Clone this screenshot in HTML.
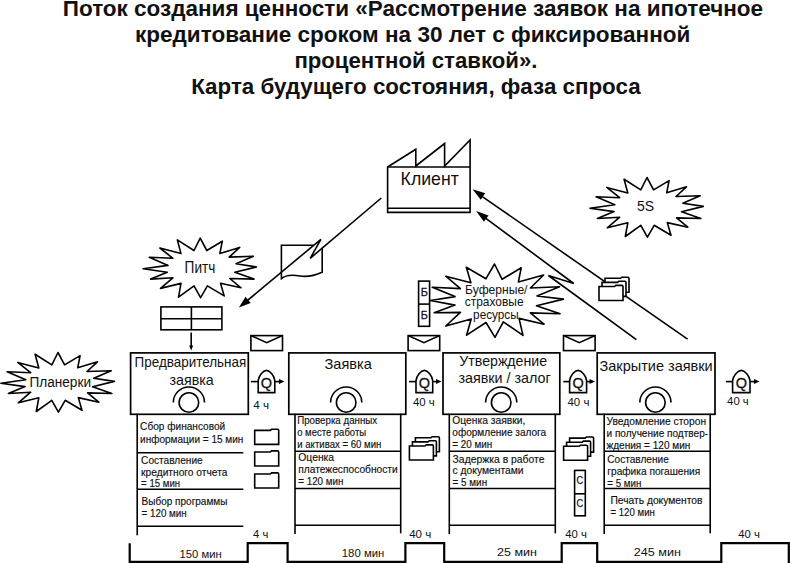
<!DOCTYPE html>
<html><head><meta charset="utf-8"><style>
html,body{margin:0;padding:0;background:#fff;overflow:hidden;}
svg{display:block;}
</style></head><body>
<svg width="790" height="563" viewBox="0 0 790 563" font-family="'Liberation Sans', sans-serif" fill="none" stroke="#000">
<rect x="0" y="0" width="790" height="563" fill="#fff" stroke="none"/>
<g fill="none" stroke="#111" stroke-linecap="butt">
</g>
<g>
<text x="62.8" y="16.2" font-size="22.5" font-weight="bold" textLength="700.3" lengthAdjust="spacingAndGlyphs" fill="#111" stroke="none">Поток создания ценности «Рассмотрение заявок на ипотечное</text>
<text x="135.0" y="42.2" font-size="22.5" font-weight="bold" textLength="555.4" lengthAdjust="spacingAndGlyphs" fill="#111" stroke="none">кредитование сроком на 30 лет с фиксированной</text>
<text x="294.4" y="67.8" font-size="22.5" font-weight="bold" textLength="243.0" lengthAdjust="spacingAndGlyphs" fill="#111" stroke="none">процентной ставкой».</text>
<text x="191.2" y="93.5" font-size="22.5" font-weight="bold" textLength="449.4" lengthAdjust="spacingAndGlyphs" fill="#111" stroke="none">Карта будущего состояния, фаза спроса</text>
</g>
<path d="M387.6,167 L415.8,149.2 L415.8,166 L444.6,143.5 L444.6,166 L470.1,140 L470.1,212.4 L387.6,212.4 Z" stroke-width="1.6" fill="none" />
<line x1="387.6" y1="167" x2="470.1" y2="167" stroke-width="1.6"/>
<line x1="387.6" y1="208.3" x2="470.1" y2="208.3" stroke-width="1.6"/>
<text x="400.6" y="184.6" font-size="19" textLength="58.2" lengthAdjust="spacingAndGlyphs" fill="#111" stroke="none">Клиент</text>
<path d="M281.4,245.3 L322.2,245.3 L322.2,272.2 C316,275 309,277.5 300,276 C292,274.5 285,275.5 281.4,278.6 Z" stroke-width="1.6" fill="none" />
<polygon points="320.9,239.3 313.0,245.9 310.2,258.3 327,243.1" fill="#fff" stroke="none"/>
<path d="M381.3,198 L310.2,258.3 L320.9,239.3 L243,304.2" stroke-width="1.6" fill="none" stroke-linejoin="miter"/>
<polygon points="238.90,307.60 245.56,296.85 250.68,302.99" fill="#000" stroke="none"/>
<line x1="687.6" y1="339.1" x2="480.5" y2="195.3" stroke-width="1.6"/>
<polygon points="472.60,189.30 485.17,193.30 480.71,199.70" fill="#000" stroke="none"/>
<path d="M636.4,339.6 L548.4,275.5 L573.7,283.5 L484.5,217.3" stroke-width="1.6" fill="none" stroke-linejoin="miter"/>
<polygon points="476.10,211.10 488.54,215.47 483.90,221.74" fill="#000" stroke="none"/>
<polygon points="200.2,238.1 206.8,250.5 222.3,241.2 219.9,253.4 239.7,247.4 229.2,257.1 253.4,256.3 236,263.8 256.5,267 234.8,272.3 254,279.1 229.8,278.5 241,287.8 220.5,283.2 224.2,295.9 207.4,285.9 200.6,297.7 194,285.9 178.5,297.1 181,283.4 160.5,288.4 172.9,277.8 150.6,279.1 167.3,272.2 143.1,268.8 168,265.4 149.3,257.3 172.9,258.3 159.9,248 181,253.6 177.3,239.9 194,250.5" stroke-width="1.6" fill="#fff" stroke-linejoin="round"/>
<text x="184.6" y="272.5" font-size="16" textLength="30.8" lengthAdjust="spacingAndGlyphs" fill="#111" stroke="none">Питч</text>
<polygon points="647.0,177.5 653.6,189.9 669.1,180.6 666.7,192.8 686.5,186.8 676.0,196.50000000000003 700.2,195.70000000000002 682.8,203.20000000000002 703.3,206.4 681.6,211.70000000000002 700.8,218.50000000000003 676.6,217.9 687.8,227.20000000000002 667.3,222.6 671.0,235.29999999999998 654.2,225.29999999999998 647.4,237.1 640.8,225.29999999999998 625.3,236.50000000000003 627.8,222.79999999999998 607.3,227.79999999999998 619.7,217.20000000000002 597.4,218.50000000000003 614.1,211.6 589.9,208.20000000000002 614.8,204.79999999999998 596.1,196.70000000000002 619.7,197.70000000000002 606.7,187.4 627.8,193.0 624.1,179.3 640.8,189.9" stroke-width="1.6" fill="#fff" stroke-linejoin="round"/>
<text x="636.9" y="211.4" font-size="15.5" textLength="17.2" lengthAdjust="spacingAndGlyphs" fill="#111" stroke="none">5S</text>
<polygon points="58.0,352.5 64.60000000000002,364.9 80.10000000000002,355.6 77.70000000000002,367.8 97.5,361.8 87.0,371.5 111.20000000000002,370.70000000000005 93.80000000000001,378.20000000000005 114.30000000000001,381.4 92.60000000000002,386.70000000000005 111.80000000000001,393.5 87.60000000000002,392.9 98.80000000000001,402.20000000000005 78.30000000000001,397.6 82.0,410.29999999999995 65.20000000000002,400.29999999999995 58.400000000000006,412.1 51.80000000000001,400.29999999999995 36.30000000000001,411.5 38.80000000000001,397.79999999999995 18.30000000000001,402.79999999999995 30.700000000000017,392.20000000000005 8.400000000000006,393.5 25.100000000000023,386.6 0.9000000000000057,383.20000000000005 25.80000000000001,379.79999999999995 7.100000000000023,371.70000000000005 30.700000000000017,372.70000000000005 17.700000000000017,362.4 38.80000000000001,368.0 35.10000000000002,354.3 51.80000000000001,364.9" stroke-width="1.6" fill="#fff" stroke-linejoin="round"/>
<text x="29.4" y="387.4" font-size="15.5" textLength="61.6" lengthAdjust="spacingAndGlyphs" fill="#111" stroke="none">Планерки</text>
<polygon points="494.5,264 502.1,279.3 521.2,267.8 518.4,281.9 543.6,275 530.4,288 559.5,286.7 537,296 563.5,299.1 536.5,305.8 560,313.8 530.3,312.9 544,324.2 519,318.4 523,335.4 503.3,321.8 495,337.3 486,322.5 466.6,335.2 471.2,319 445.8,326 460.4,312.4 434.2,312.8 455,305.1 430.3,300.5 455,296.6 432.3,287.3 460.4,288.6 445.8,276.2 470.9,282.7 466.3,267.3 485.9,278.8" stroke-width="1.6" fill="#fff" stroke-linejoin="round"/>
<text x="465.1" y="294.2" font-size="12.2" textLength="62.4" lengthAdjust="spacingAndGlyphs" fill="#111" stroke="none">Буферные/</text>
<text x="464.7" y="306.2" font-size="12.2" textLength="58.9" lengthAdjust="spacingAndGlyphs" fill="#111" stroke="none">страховые</text>
<text x="473.1" y="318.6" font-size="12.2" textLength="45.6" lengthAdjust="spacingAndGlyphs" fill="#111" stroke="none">ресурсы</text>
<rect x="418.6" y="281.1" width="11" height="45.2" fill="#fff" stroke-width="1.6"/>
<line x1="418.6" y1="304.1" x2="429.6" y2="304.1" stroke-width="1.6"/>
<text x="420.8" y="295.8" font-size="10.8" textLength="7.1" lengthAdjust="spacingAndGlyphs" fill="#111" stroke="#111" stroke-width="0.3">Б</text>
<text x="420.8" y="318.6" font-size="10.8" textLength="7.1" lengthAdjust="spacingAndGlyphs" fill="#111" stroke="#111" stroke-width="0.3">Б</text>
<rect x="160.9" y="306.9" width="61" height="22.9" fill="none" stroke-width="1.6"/>
<line x1="160.9" y1="318.7" x2="221.9" y2="318.7" stroke-width="1.6"/>
<line x1="191.4" y1="306.9" x2="191.4" y2="329.8" stroke-width="1.6"/>
<line x1="191.2" y1="332.5" x2="191.2" y2="347" stroke-width="1.6"/>
<polygon points="191.20,350.50 189.20,345.50 193.20,345.50" fill="#000" stroke="none"/>
<rect x="250.9" y="335.6" width="31.6" height="15" fill="none" stroke-width="1.6"/>
<path d="M250.9,335.6 L266.7,342.7 L282.5,335.6" stroke-width="1.6" fill="none" />
<rect x="408.1" y="335.6" width="31.6" height="15" fill="none" stroke-width="1.6"/>
<path d="M408.1,335.6 L423.90000000000003,342.7 L439.70000000000005,335.6" stroke-width="1.6" fill="none" />
<rect x="563.5" y="335.6" width="31.6" height="15" fill="none" stroke-width="1.6"/>
<path d="M563.5,335.6 L579.3,342.7 L595.1,335.6" stroke-width="1.6" fill="none" />
<rect x="130.6" y="352.9" width="117.7" height="61.4" fill="none" stroke-width="1.7"/>
<rect x="288.8" y="352.9" width="117.0" height="61.4" fill="none" stroke-width="1.7"/>
<rect x="443" y="352.9" width="116.8" height="61.4" fill="none" stroke-width="1.7"/>
<rect x="597.2" y="352.9" width="117.8" height="61.4" fill="none" stroke-width="1.7"/>
<text x="134.6" y="366.8" font-size="15" textLength="111.6" lengthAdjust="spacingAndGlyphs" fill="#111" stroke="none">Предварительная</text>
<text x="169.6" y="384.6" font-size="14.5" textLength="44.2" lengthAdjust="spacingAndGlyphs" fill="#111" stroke="none">заявка</text>
<text x="324.6" y="369.3" font-size="14.5" textLength="47.2" lengthAdjust="spacingAndGlyphs" fill="#111" stroke="none">Заявка</text>
<text x="459.3" y="365.5" font-size="14.5" textLength="87.8" lengthAdjust="spacingAndGlyphs" fill="#111" stroke="none">Утверждение</text>
<text x="458.4" y="383.1" font-size="14.5" textLength="92.4" lengthAdjust="spacingAndGlyphs" fill="#111" stroke="none">заявки / залог</text>
<text x="599.5" y="371.4" font-size="14.5" textLength="113.2" lengthAdjust="spacingAndGlyphs" fill="#111" stroke="none">Закрытие заявки</text>
<circle cx="188.9" cy="402.5" r="9.8" fill="none" stroke-width="1.6"/>
<path d="M173.3,402.4 A15.6,15.4 0 0 1 204.5,402.4" stroke-width="1.6" fill="none" />
<circle cx="346.2" cy="402.5" r="9.8" fill="none" stroke-width="1.6"/>
<path d="M330.59999999999997,402.4 A15.6,15.4 0 0 1 361.8,402.4" stroke-width="1.6" fill="none" />
<circle cx="501.2" cy="402.5" r="9.8" fill="none" stroke-width="1.6"/>
<path d="M485.59999999999997,402.4 A15.6,15.4 0 0 1 516.8,402.4" stroke-width="1.6" fill="none" />
<circle cx="655.4" cy="402.5" r="9.8" fill="none" stroke-width="1.6"/>
<path d="M639.8,402.4 A15.6,15.4 0 0 1 671.0,402.4" stroke-width="1.6" fill="none" />
<path d="M258.2,392.6 L258.2,380.6 C258.7,376 263.0,370.4 266.5,370.4 C270.0,370.4 274.3,376 274.8,380.6 L274.8,392.6 Z" stroke-width="1.6" fill="none" />
<line x1="250.9" y1="381.6" x2="258.2" y2="381.6" stroke-width="1.6"/>
<line x1="274.8" y1="381.6" x2="280.5" y2="381.6" stroke-width="1.6"/>
<polygon points="284.50,381.60 279.00,384.10 279.00,379.10" fill="#000" stroke="none"/>
<text x="266.5" y="388.3" font-size="14.5" text-anchor="middle" fill="#111" stroke="#111" stroke-width="0.3">Q</text>
<path d="M416,392.6 L416,380.6 C416.5,376 420.85,370.4 424.35,370.4 C427.85,370.4 432.2,376 432.7,380.6 L432.7,392.6 Z" stroke-width="1.6" fill="none" />
<line x1="409" y1="381.6" x2="416" y2="381.6" stroke-width="1.6"/>
<line x1="432.7" y1="381.6" x2="437.5" y2="381.6" stroke-width="1.6"/>
<polygon points="441.50,381.60 436.00,384.10 436.00,379.10" fill="#000" stroke="none"/>
<text x="424.35" y="388.3" font-size="14.5" text-anchor="middle" fill="#111" stroke="#111" stroke-width="0.3">Q</text>
<path d="M569.6,392.6 L569.6,380.6 C570.1,376 574.6,370.4 578.1,370.4 C581.6,370.4 586.1,376 586.6,380.6 L586.6,392.6 Z" stroke-width="1.6" fill="none" />
<line x1="563.3" y1="381.6" x2="569.6" y2="381.6" stroke-width="1.6"/>
<line x1="586.6" y1="381.6" x2="591" y2="381.6" stroke-width="1.6"/>
<polygon points="595.00,381.60 589.50,384.10 589.50,379.10" fill="#000" stroke="none"/>
<text x="578.1" y="388.3" font-size="14.5" text-anchor="middle" fill="#111" stroke="#111" stroke-width="0.3">Q</text>
<path d="M732.6,392.6 L732.6,380.6 C733.1,376 737.8,370.4 741.3,370.4 C744.8,370.4 749.5,376 750,380.6 L750,392.6 Z" stroke-width="1.6" fill="none" />
<line x1="725.9" y1="381.6" x2="732.6" y2="381.6" stroke-width="1.6"/>
<line x1="750" y1="381.6" x2="755.5" y2="381.6" stroke-width="1.6"/>
<polygon points="759.50,381.60 754.00,384.10 754.00,379.10" fill="#000" stroke="none"/>
<text x="741.3" y="388.3" font-size="14.5" text-anchor="middle" fill="#111" stroke="#111" stroke-width="0.3">Q</text>
<text x="253.2" y="408.7" font-size="11.5" textLength="15.8" lengthAdjust="spacingAndGlyphs" fill="#111" stroke="none">4 ч</text>
<text x="413" y="405.6" font-size="11.5" textLength="21.8" lengthAdjust="spacingAndGlyphs" fill="#111" stroke="none">40 ч</text>
<text x="567.5" y="405.8" font-size="11.5" textLength="21.9" lengthAdjust="spacingAndGlyphs" fill="#111" stroke="none">40 ч</text>
<text x="727.1" y="404.5" font-size="11.5" textLength="21.7" lengthAdjust="spacingAndGlyphs" fill="#111" stroke="none">40 ч</text>
<line x1="137.2" y1="413.8" x2="137.2" y2="535.3" stroke-width="1.6"/>
<line x1="137.2" y1="452.8" x2="243.3" y2="452.8" stroke-width="1.6"/>
<line x1="137.2" y1="489.3" x2="243.3" y2="489.3" stroke-width="1.6"/>
<line x1="137.2" y1="526.2" x2="243.3" y2="526.2" stroke-width="1.6"/>
<line x1="295" y1="413.8" x2="295" y2="534" stroke-width="1.6"/>
<line x1="400.7" y1="413.8" x2="400.7" y2="533.3" stroke-width="1.6"/>
<line x1="295" y1="451.2" x2="400.7" y2="451.2" stroke-width="1.6"/>
<line x1="295" y1="488.5" x2="400.7" y2="488.5" stroke-width="1.6"/>
<line x1="295" y1="525.2" x2="400.7" y2="525.2" stroke-width="1.6"/>
<line x1="449.3" y1="413.8" x2="449.3" y2="534" stroke-width="1.6"/>
<line x1="555.3" y1="413.8" x2="555.3" y2="533.3" stroke-width="1.6"/>
<line x1="449.3" y1="451.2" x2="555.3" y2="451.2" stroke-width="1.6"/>
<line x1="449.3" y1="488.5" x2="555.3" y2="488.5" stroke-width="1.6"/>
<line x1="449.3" y1="525.2" x2="555.3" y2="525.2" stroke-width="1.6"/>
<line x1="604.2" y1="413.8" x2="604.2" y2="534" stroke-width="1.6"/>
<line x1="710.2" y1="413.8" x2="710.2" y2="533.3" stroke-width="1.6"/>
<line x1="604.2" y1="451.2" x2="710.2" y2="451.2" stroke-width="1.6"/>
<line x1="604.2" y1="488.5" x2="710.2" y2="488.5" stroke-width="1.6"/>
<line x1="604.2" y1="525.2" x2="710.2" y2="525.2" stroke-width="1.6"/>
<g font-size="10">
<text x="140.1" y="430.3" font-size="10.3" textLength="85.1" lengthAdjust="spacingAndGlyphs" fill="#111" stroke="#111" stroke-width="0.15">Сбор финансовой</text>
<text x="140.1" y="443" font-size="10.3" textLength="103.3" lengthAdjust="spacingAndGlyphs" fill="#111" stroke="#111" stroke-width="0.15">информации = 15 мин</text>
<text x="141.1" y="464.3" font-size="10.3" textLength="61.6" lengthAdjust="spacingAndGlyphs" fill="#111" stroke="#111" stroke-width="0.15">Составление</text>
<text x="141.1" y="475.5" font-size="10.3" textLength="86.3" lengthAdjust="spacingAndGlyphs" fill="#111" stroke="#111" stroke-width="0.15">кредитного отчета</text>
<text x="141.1" y="487.1" font-size="10.3" textLength="39" lengthAdjust="spacingAndGlyphs" fill="#111" stroke="#111" stroke-width="0.15">= 15 мин</text>
<text x="141.6" y="505.2" font-size="10.3" textLength="85.8" lengthAdjust="spacingAndGlyphs" fill="#111" stroke="#111" stroke-width="0.15">Выбор программы</text>
<text x="141.6" y="517.1" font-size="10.3" textLength="45.1" lengthAdjust="spacingAndGlyphs" fill="#111" stroke="#111" stroke-width="0.15">= 120 мин</text>
<text x="297.2" y="424.4" font-size="10.3" textLength="80" lengthAdjust="spacingAndGlyphs" fill="#111" stroke="#111" stroke-width="0.15">Проверка данных</text>
<text x="297.2" y="436" font-size="10.3" textLength="68.9" lengthAdjust="spacingAndGlyphs" fill="#111" stroke="#111" stroke-width="0.15">о месте работы</text>
<text x="297.2" y="447.5" font-size="10.3" textLength="84.2" lengthAdjust="spacingAndGlyphs" fill="#111" stroke="#111" stroke-width="0.15">и активах = 60 мин</text>
<text x="298.3" y="461.4" font-size="10.3" textLength="35.8" lengthAdjust="spacingAndGlyphs" fill="#111" stroke="#111" stroke-width="0.15">Оценка</text>
<text x="298.3" y="473" font-size="10.3" textLength="99.4" lengthAdjust="spacingAndGlyphs" fill="#111" stroke="#111" stroke-width="0.15">платежеспособности</text>
<text x="298.3" y="484.8" font-size="10.3" textLength="45.1" lengthAdjust="spacingAndGlyphs" fill="#111" stroke="#111" stroke-width="0.15">= 120 мин</text>
<text x="452.3" y="424.4" font-size="10.3" textLength="73" lengthAdjust="spacingAndGlyphs" fill="#111" stroke="#111" stroke-width="0.15">Оценка заявки,</text>
<text x="452.3" y="436" font-size="10.3" textLength="93.8" lengthAdjust="spacingAndGlyphs" fill="#111" stroke="#111" stroke-width="0.15">оформление залога</text>
<text x="452.3" y="447.5" font-size="10.3" textLength="40" lengthAdjust="spacingAndGlyphs" fill="#111" stroke="#111" stroke-width="0.15">= 20 мин</text>
<text x="452.6" y="462.8" font-size="10.3" textLength="91.9" lengthAdjust="spacingAndGlyphs" fill="#111" stroke="#111" stroke-width="0.15">Задержка в работе</text>
<text x="452.6" y="474.4" font-size="10.3" textLength="71" lengthAdjust="spacingAndGlyphs" fill="#111" stroke="#111" stroke-width="0.15">с документами</text>
<text x="452.6" y="485.9" font-size="10.3" textLength="34.5" lengthAdjust="spacingAndGlyphs" fill="#111" stroke="#111" stroke-width="0.15">= 5 мин</text>
<text x="606.5" y="425.3" font-size="10.3" textLength="99.6" lengthAdjust="spacingAndGlyphs" fill="#111" stroke="#111" stroke-width="0.15">Уведомление сторон</text>
<text x="606.5" y="437" font-size="10.3" textLength="101.6" lengthAdjust="spacingAndGlyphs" fill="#111" stroke="#111" stroke-width="0.15">и получение подтвер-</text>
<text x="606.5" y="448.9" font-size="10.3" textLength="83.9" lengthAdjust="spacingAndGlyphs" fill="#111" stroke="#111" stroke-width="0.15">ждения = 120 мин</text>
<text x="607.3" y="463.2" font-size="10.3" textLength="61.5" lengthAdjust="spacingAndGlyphs" fill="#111" stroke="#111" stroke-width="0.15">Составление</text>
<text x="607.3" y="475.1" font-size="10.3" textLength="92.9" lengthAdjust="spacingAndGlyphs" fill="#111" stroke="#111" stroke-width="0.15">графика погашения</text>
<text x="607.3" y="486.9" font-size="10.3" textLength="34" lengthAdjust="spacingAndGlyphs" fill="#111" stroke="#111" stroke-width="0.15">= 5 мин</text>
<text x="610.4" y="503.6" font-size="10.3" textLength="92.1" lengthAdjust="spacingAndGlyphs" fill="#111" stroke="#111" stroke-width="0.15">Печать документов</text>
<text x="610.4" y="515.6" font-size="10.3" textLength="44.5" lengthAdjust="spacingAndGlyphs" fill="#111" stroke="#111" stroke-width="0.15">= 120 мин</text>
</g>
<path d="M254.7,444.4 L254.7,430.4 L270.23999999999995,430.4 L271.53999999999996,429.29999999999995 L277.5,429.29999999999995 Q278.7,429.29999999999995 278.7,430.59999999999997 L278.7,444.4 Z" stroke-width="1.6" fill="#fff" />
<path d="M254.7,466 L254.7,452 L270.23999999999995,452 L271.53999999999996,450.9 L277.5,450.9 Q278.7,450.9 278.7,452.2 L278.7,466 Z" stroke-width="1.6" fill="#fff" />
<path d="M254.7,488 L254.7,474 L270.23999999999995,474 L271.53999999999996,472.9 L277.5,472.9 Q278.7,472.9 278.7,474.2 L278.7,488 Z" stroke-width="1.6" fill="#fff" />
<path d="M415.4,451.8 L415.4,437.8 L430.93999999999994,437.8 L432.23999999999995,436.7 L438.2,436.7 Q439.4,436.7 439.4,438.0 L439.4,451.8 Z" stroke-width="1.6" fill="#fff" />
<path d="M412.4,455.9 L412.4,441.9 L427.93999999999994,441.9 L429.23999999999995,440.79999999999995 L435.2,440.79999999999995 Q436.4,440.79999999999995 436.4,442.09999999999997 L436.4,455.9 Z" stroke-width="1.6" fill="#fff" />
<path d="M409.4,460 L409.4,446 L424.93999999999994,446 L426.23999999999995,444.9 L432.2,444.9 Q433.4,444.9 433.4,446.2 L433.4,460 Z" stroke-width="1.6" fill="#fff" />
<path d="M569.6,452.1 L569.6,438.1 L585.1400000000001,438.1 L586.44,437.0 L592.4,437.0 Q593.6,437.0 593.6,438.3 L593.6,452.1 Z" stroke-width="1.6" fill="#fff" />
<path d="M566.6,456.2 L566.6,442.2 L582.1400000000001,442.2 L583.44,441.09999999999997 L589.4,441.09999999999997 Q590.6,441.09999999999997 590.6,442.4 L590.6,456.2 Z" stroke-width="1.6" fill="#fff" />
<path d="M563.6,460.3 L563.6,446.3 L579.1400000000001,446.3 L580.44,445.2 L586.4,445.2 Q587.6,445.2 587.6,446.5 L587.6,460.3 Z" stroke-width="1.6" fill="#fff" />
<path d="M605,292.3 L605,278.3 L620.5400000000001,278.3 L621.84,277.2 L627.8,277.2 Q629,277.2 629,278.5 L629,292.3 Z" stroke-width="1.6" fill="#fff" />
<path d="M602,296.4 L602,282.4 L617.5400000000001,282.4 L618.84,281.29999999999995 L624.8,281.29999999999995 Q626,281.29999999999995 626,282.59999999999997 L626,296.4 Z" stroke-width="1.6" fill="#fff" />
<path d="M599,300.5 L599,286.5 L614.5400000000001,286.5 L615.84,285.4 L621.8,285.4 Q623,285.4 623,286.7 L623,300.5 Z" stroke-width="1.6" fill="#fff" />
<rect x="574.6" y="470.4" width="10.7" height="45.4" fill="#fff" stroke-width="1.6"/>
<line x1="574.6" y1="493.8" x2="585.3" y2="493.8" stroke-width="1.6"/>
<text x="576.4" y="484.3" font-size="10" textLength="6.7" lengthAdjust="spacingAndGlyphs" fill="#111" stroke="#111" stroke-width="0.25">С</text>
<text x="576.4" y="507.2" font-size="10" textLength="6.7" lengthAdjust="spacingAndGlyphs" fill="#111" stroke="#111" stroke-width="0.25">С</text>
<path d="M129.7,543.2 L129.7,561.8 L247.7,561.8 L247.7,543.2 L287.6,543.2 L287.6,561.8 L405.4,561.8 L405.4,543.2 L444.2,543.2 L444.2,561.8 L561.7,561.8 L561.7,543.2 L597.2,543.2 L597.2,561.8 L721.3,561.8 L721.3,543.2 L788.8,543.2 L788.8,563" stroke-width="2.2" fill="none" stroke-linejoin="miter"/>
<text x="179.6" y="558" font-size="11.5" textLength="42.2" lengthAdjust="spacingAndGlyphs" fill="#111" stroke="none">150 мин</text>
<text x="341.8" y="556.8" font-size="11.5" textLength="42.5" lengthAdjust="spacingAndGlyphs" fill="#111" stroke="none">180 мин</text>
<text x="497" y="555.8" font-size="11.5" textLength="40" lengthAdjust="spacingAndGlyphs" fill="#111" stroke="none">25 мин</text>
<text x="633.8" y="555.8" font-size="11.5" textLength="47.1" lengthAdjust="spacingAndGlyphs" fill="#111" stroke="none">245 мин</text>
<text x="253.1" y="537.7" font-size="11.5" textLength="15.2" lengthAdjust="spacingAndGlyphs" fill="#111" stroke="none">4 ч</text>
<text x="409.2" y="537.7" font-size="11.5" textLength="22.1" lengthAdjust="spacingAndGlyphs" fill="#111" stroke="none">40 ч</text>
<text x="565.3" y="538.2" font-size="11.5" textLength="21.7" lengthAdjust="spacingAndGlyphs" fill="#111" stroke="none">40 ч</text>
<text x="738.2" y="537.7" font-size="11.5" textLength="21.6" lengthAdjust="spacingAndGlyphs" fill="#111" stroke="none">40 ч</text>
</svg>
</body></html>
